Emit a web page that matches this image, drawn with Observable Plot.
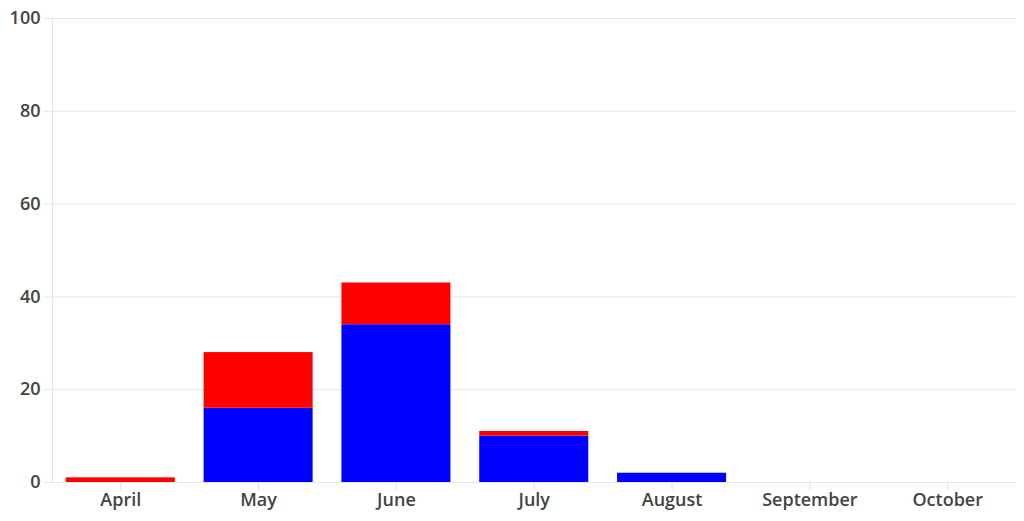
<!DOCTYPE html>
<html><head><meta charset="utf-8">
<script src="https://cdn.jsdelivr.net/npm/d3@7"></script>
<script src="https://cdn.jsdelivr.net/npm/@observablehq/plot@0.6"></script>
<style>
body{margin:0;background:#fff;}
#chart svg{font-family:"Open Sans",sans-serif;}
</style>
</head><body><div id="chart"></div>
<script>
const months = ["April","May","June","July","August","September","October"];
const blueValues = [0,16,34,10,2,0,0];
const redValues = [1,12,9,1,0,0,0];
const yTicks = [0,20,40,60,80,100];
const seriesNames = ["blue","red"];
const seriesColors = ["#0000ff","#ff0000"];

const data = [];
months.forEach((m,i)=>{
  data.push({month:m, series:"blue", value:blueValues[i]});
  data.push({month:m, series:"red", value:redValues[i]});
});

const chart = Plot.plot({
  width:1024, height:521,
  marginTop:18, marginBottom:39, marginLeft:52, marginRight:8.5,
  style:{fontSize:"18px", fontWeight:600, color:"#444", background:"#fff"},
  x:{domain:months, paddingInner:0.209, paddingOuter:0.1, round:false, label:null},
  y:{domain:[0,100], label:null},
  color:{domain:seriesNames, range:seriesColors},
  marks:[
    Plot.ruleY(yTicks,{stroke:"#e6e6e6", insetLeft:-8}),
    Plot.frame({anchor:"left", stroke:"#e6e6e6"}),
    Plot.axisY(yTicks,{tickSize:0, tickPadding:12, fill:"#444", fontSize:18, fontWeight:600}),
    Plot.axisX({tickSize:8, stroke:"#dddddd", tickPadding:3, fill:"#444", fontSize:18, fontWeight:600}),
    Plot.barY(data, Plot.stackY({x:"month", y:"value", fill:"series", order:seriesNames})),
    Plot.ruleY([0],{stroke:"#e6e6e6"}),
  ]
});
document.getElementById("chart").appendChild(chart);
</script></body></html>
